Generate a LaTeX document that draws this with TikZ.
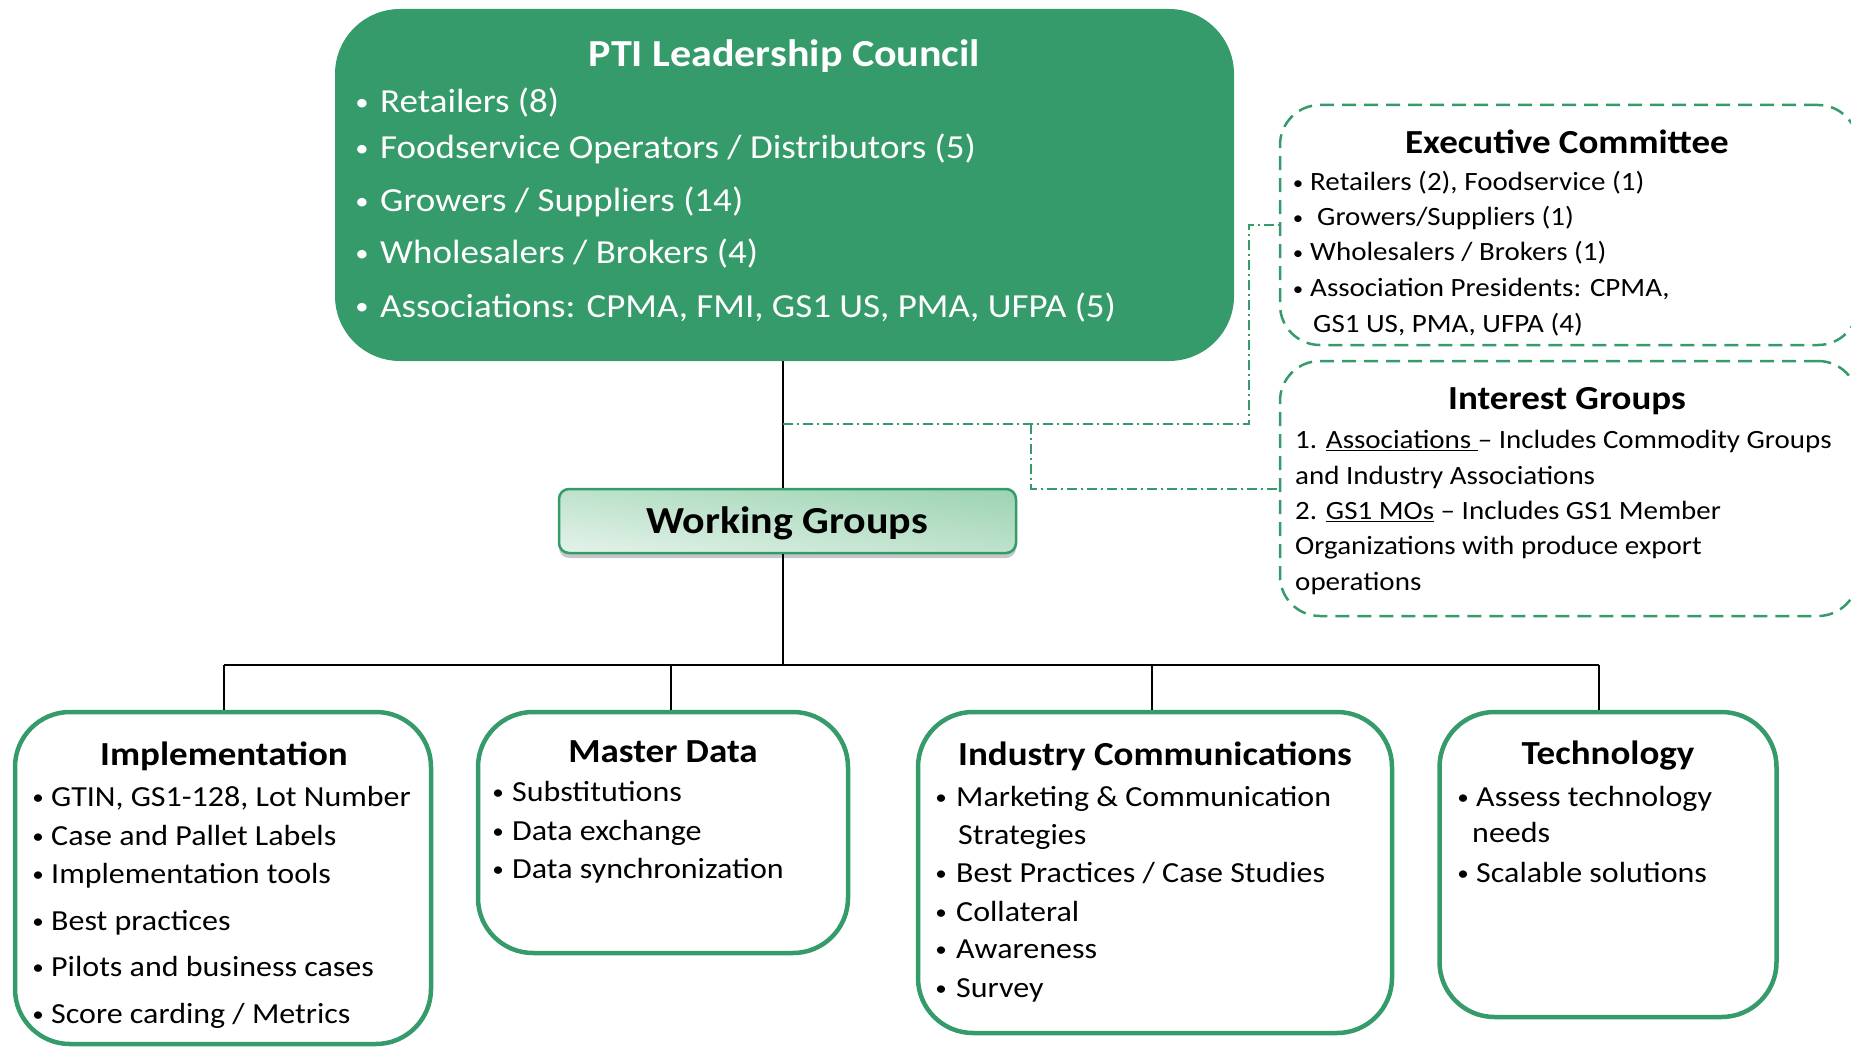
\documentclass[tikz,border=0pt]{standalone}
\usepackage{fontspec}
\setmainfont{Carlito}
\usepackage{graphicx}
\usetikzlibrary{shadows,shadings}
\definecolor{pgreen}{HTML}{359B6A}
\definecolor{wgdark}{HTML}{9CD3B2}
\definecolor{wgmid}{HTML}{BEE2CC}
\definecolor{wglight}{HTML}{E4F3EA}
\newcommand\sq[1]{\scalebox{1}[0.91]{#1}}
\newcommand\bul{\raisebox{0.06em}{\scalebox{0.72}{•}}}
\newcommand\ulx[1]{\setbox0=\hbox{#1}\rlap{\rule[-3.5pt]{\wd0}{1.6pt}}\box0\relax}
\begin{document}
\begin{tikzpicture}[x=1pt,y=-1pt,
  tl/.style={inner sep=0pt, anchor=base west},
  tc/.style={inner sep=0pt, anchor=base},
  ftop/.style={font=\fontsize{37}{44}\selectfont, text=white},
  ftopt/.style={font=\bfseries\fontsize{42}{50}\selectfont, text=white},
  fside/.style={font=\fontsize{29}{35}\selectfont},
  fhead/.style={font=\bfseries\fontsize{37}{44}\selectfont},
  fbot/.style={font=\fontsize{32}{38}\selectfont},
  fwg/.style={font=\bfseries\fontsize{42}{50}\selectfont},
  boxb/.style={draw=pgreen, line width=4.5pt, rounded corners=55pt, inner sep=0pt, fill=white},
  dbox/.style={draw=pgreen, line width=2.5pt, dash pattern=on 14pt off 8pt, rounded corners=40pt, inner sep=0pt},
  conn/.style={line width=2.2pt, black},
  dd/.style={draw=pgreen, line width=2pt, dash pattern=on 10pt off 4pt on 2pt off 4pt},
]
\useasboundingbox (0,0) rectangle (1851,1048);
\clip (0,0) rectangle (1851,1048);

% ---- Leadership council
\node (lc) [fill=pgreen, rounded corners=65pt, minimum width=899pt, minimum height=352pt, inner sep=0pt] at (784.5,185) {};
\node[tc,ftopt] (lct) at (784.5,67) {\sq{PTI Leadership Council}};
\node[tc,ftop] (lcb1) at (362,113) {\sq{\bul}};
\node[tl,ftop] (lc1) at (380,113) {\sq{Retailers (8)}};
\node[tc,ftop] (lcb2) at (362,159) {\sq{\bul}};
\node[tl,ftop] (lc2) at (380,159) {\sq{Foodservice Operators / Distributors (5)}};
\node[tc,ftop] (lcb3) at (362,212) {\sq{\bul}};
\node[tl,ftop] (lc3) at (380,212) {\sq{Growers / Suppliers (14)}};
\node[tc,ftop] (lcb4) at (362,264) {\sq{\bul}};
\node[tl,ftop] (lc4) at (380,264) {\sq{Wholesalers / Brokers (4)}};
\node[tc,ftop] (lcb5) at (362,317) {\sq{\bul}};
\node[tl,ftop] (lc5) at (380,317) {\sq{Associations: CPMA, FMI, GS1 US, PMA, UFPA (5)}};

% ---- Executive committee
\node (ec) [dbox, minimum width=578pt, minimum height=240pt] at (1569,225) {};
\node[tc,fhead] (ect) at (1567,154) {\sq{Executive Committee}};
\node[tc,fside] (ecb1) at (1298,191) {\sq{\bul}};
\node[tl,fside] (ec1) at (1310,191) {\sq{Retailers (2), Foodservice (1)}};
\node[tc,fside] (ecb2) at (1298,226) {\sq{\bul}};
\node[tl,fside] (ec2) at (1317,226) {\sq{Growers/Suppliers (1)}};
\node[tc,fside] (ecb3) at (1298,261) {\sq{\bul}};
\node[tl,fside] (ec3) at (1310,261) {\sq{Wholesalers / Brokers (1)}};
\node[tc,fside] (ecb4) at (1298,297) {\sq{\bul}};
\node[tl,fside] (ec4) at (1310,297) {\sq{Association Presidents: CPMA,}};
\node[tl,fside] (ec5) at (1313,332) {\sq{GS1 US, PMA, UFPA (4)}};

% ---- Interest groups
\node (ig) [dbox, minimum width=578pt, minimum height=255pt] at (1569,488.5) {};
\node[tc,fhead] (igt) at (1567,409) {\sq{Interest Groups}};
\node[tl,fside] (ig1) at (1295,448) {\sq{1. \ulx{Associations }– Includes Commodity Groups}};
\node[tl,fside] (ig2) at (1295,484) {\sq{and Industry Associations}};
\node[tl,fside] (ig3) at (1295,519) {\sq{2. \ulx{GS1 MOs} – Includes GS1 Member}};
\node[tl,fside] (ig4) at (1295,554) {\sq{Organizations with produce export}};
\node[tl,fside] (ig5) at (1295,590) {\sq{operations}};

% ---- Working groups
\node (wg) [draw=pgreen, line width=2.5pt, rounded corners=10pt, minimum width=457pt, minimum height=64pt, inner sep=0pt,
  shading=bilinear interpolation, lower left=wglight, upper right=wgdark, upper left=wgmid, lower right=wgmid,
  drop shadow={shadow xshift=0pt, shadow yshift=-5pt, fill=black, opacity=0.22}] at (787.5,521) {};
\node[tc,fwg] (wgt) at (787,533) {\sq{Working Groups}};

% ---- Bottom boxes
\node (imp) [boxb, minimum width=416pt, minimum height=332pt] at (223,878) {};
\node (md) [boxb, minimum width=370pt, minimum height=241pt] at (663,832.5) {};
\node (ic) [boxb, minimum width=474pt, minimum height=321pt] at (1155,872.5) {};
\node (tech) [boxb, minimum width=337pt, minimum height=305pt] at (1608,864.5) {};

% Implementation
\node[tc,fhead] (impt) at (224,765) {\sq{Implementation}};
\node[tc,fbot] (impb1) at (38,806) {\sq{\bul}};
\node[tl,fbot] (imp1) at (51,806) {\sq{GTIN, GS1-128, Lot Number}};
\node[tc,fbot] (impb2) at (38,845) {\sq{\bul}};
\node[tl,fbot] (imp2) at (51,845) {\sq{Case and Pallet Labels}};
\node[tc,fbot] (impb3) at (38,883) {\sq{\bul}};
\node[tl,fbot] (imp3) at (51,883) {\sq{Implementation tools}};
\node[tc,fbot] (impb4) at (38,930) {\sq{\bul}};
\node[tl,fbot] (imp4) at (51,930) {\sq{Best practices}};
\node[tc,fbot] (impb5) at (38,976) {\sq{\bul}};
\node[tl,fbot] (imp5) at (51,976) {\sq{Pilots and business cases}};
\node[tc,fbot] (impb6) at (38,1023) {\sq{\bul}};
\node[tl,fbot] (imp6) at (51,1023) {\sq{Score carding / Metrics}};

% Master data
\node[tc,fhead] (mdt) at (663,762) {\sq{Master Data}};
\node[tc,fbot] (mdb1) at (498,801) {\sq{\bul}};
\node[tl,fbot] (md1) at (512,801) {\sq{Substitutions}};
\node[tc,fbot] (mdb2) at (498,840) {\sq{\bul}};
\node[tl,fbot] (md2) at (512,840) {\sq{Data exchange}};
\node[tc,fbot] (mdb3) at (498,878) {\sq{\bul}};
\node[tl,fbot] (md3) at (512,878) {\sq{Data synchronization}};

% Industry communications
\node[tc,fhead] (ict) at (1155,765) {\sq{Industry Communications}};
\node[tc,fbot] (icb1) at (941,806) {\sq{\bul}};
\node[tl,fbot] (ic1) at (956,806) {\sq{Marketing \& Communication}};
\node[tl,fbot] (ic1b) at (958,844) {\sq{Strategies}};
\node[tc,fbot] (icb2) at (941,882) {\sq{\bul}};
\node[tl,fbot] (ic2) at (956,882) {\sq{Best Practices / Case Studies}};
\node[tc,fbot] (icb3) at (941,921) {\sq{\bul}};
\node[tl,fbot] (ic3) at (956,921) {\sq{Collateral}};
\node[tc,fbot] (icb4) at (941,958) {\sq{\bul}};
\node[tl,fbot] (ic4) at (956,958) {\sq{Awareness}};
\node[tc,fbot] (icb5) at (941,997) {\sq{\bul}};
\node[tl,fbot] (ic5) at (956,997) {\sq{Survey}};

% Technology
\node[tc,fhead] (techt) at (1608,764) {\sq{Technology}};
\node[tc,fbot] (techb1) at (1463,806) {\sq{\bul}};
\node[tl,fbot] (tech1) at (1476,806) {\sq{Assess technology}};
\node[tl,fbot] (tech1b) at (1472,842) {\sq{needs}};
\node[tc,fbot] (techb2) at (1463,882) {\sq{\bul}};
\node[tl,fbot] (tech2) at (1476,882) {\sq{Scalable solutions}};

% ---- Connectors
\coordinate (j1) at (783,424);
\coordinate (bus) at (783,665);
\coordinate (d1) at (224,665);
\coordinate (d2) at (671,665);
\coordinate (d3) at (1152,665);
\coordinate (d4) at (1599,665);
\coordinate (k1) at (1249,424);
\coordinate (k2) at (1031,424);

\draw[conn] (lc.south -| j1) -- (wg.north -| j1);
\draw[conn] (wg.south -| j1) -- (bus);
\draw[conn] (d1) -- (d4);
\draw[conn] (d1) -- (d1 |- imp.north);
\draw[conn] (d2) -- (d2 |- md.north);
\draw[conn] (d3) -- (d3 |- ic.north);
\draw[conn] (d4) -- (d4 |- tech.north);

\draw[dd] (j1) -- (k1) |- (ec.west);
\draw[dd] (k2) |- (ig.west);
\end{tikzpicture}
\end{document}
